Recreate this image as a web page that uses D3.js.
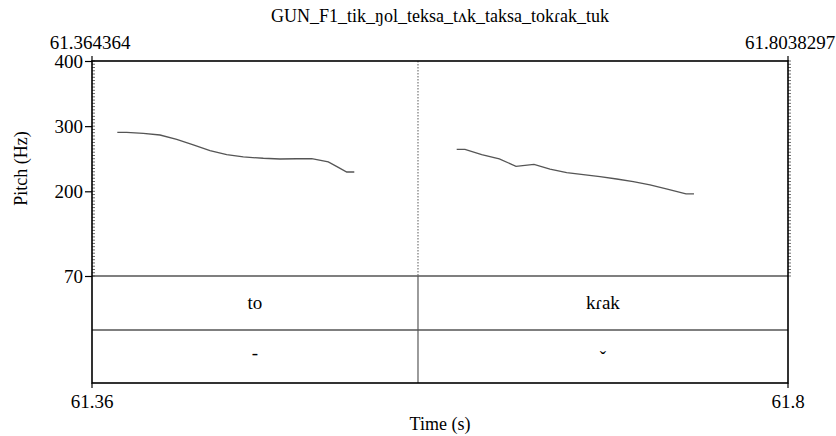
<!DOCTYPE html>
<html>
<head>
<meta charset="utf-8">
<script src="https://cdn.jsdelivr.net/npm/d3@7"></script>
<style>
  html, body { margin: 0; padding: 0; background: #fff; }
  svg { display: block; }
  svg text { font-family: 'Liberation Serif', 'Times New Roman', 'DejaVu Serif', serif !important; fill: #000; }
</style>
</head>
<body>
<svg id="chart" width="836" height="436"></svg>
<script>
// Window and axis settings
const title = "GUN_F1_tik_ŋol_teksa_tʌk_taksa_tokɾak_tuk";
const tStart = 61.364364;
const tEnd = 61.8038297;
const startLabel = "61.364364";
const endLabel = "61.8038297";
const bottomLabels = ["61.36", "61.8"];
const pitchTicks = [70, 200, 300, 400];
const pitchMin = 70, pitchMax = 400;

// Pitch contour of the first syllable (time in s, F0 in Hz)
const seg1Time = [61.38034, 61.38627, 61.39676, 61.40730, 61.41785, 61.42833, 61.43887, 61.44942,
                  61.45990, 61.47253, 61.48307, 61.49361, 61.50309, 61.51357, 61.51988, 61.52519, 61.52998];
const seg1Hz   = [290.6, 290.6, 289.0, 286.4, 279.8, 271.1, 262.3, 256.2,
                  252.7, 250.7, 249.6, 250.0, 250.0, 245.0, 236.8, 229.6, 229.6];

// Pitch contour of the second syllable
const seg2Time = [61.59464, 61.59988, 61.61043, 61.62154, 61.63208, 61.64345, 61.65355, 61.66410,
                  61.67458, 61.68512, 61.69567, 61.70615, 61.71669, 61.72825, 61.73942, 61.74447];
const seg2Hz   = [264.5, 264.5, 256.2, 249.6, 238.4, 241.4, 234.2, 228.6,
                  225.5, 222.4, 218.9, 214.7, 209.7, 203.1, 195.9, 195.9];

// TextGrid tiers: interval boundary and labels
const boundaries = [61.5702];
const syllables = ["to", "kɾak"];
const tones = ["-", "ˇ"];

const serif = "'Liberation Serif', 'Times New Roman', 'DejaVu Serif', serif";
const svg = d3.select("#chart").style("font-family", serif);
const frameL = 92, frameR = 788, frameT = 61, pitchBottom = 276, tier1Bottom = 330, frameB = 383;

const x = d3.scaleLinear().domain([tStart, tEnd]).range([frameL, frameR]);
const y = d3.scaleLinear().domain([pitchMin, pitchMax]).range([pitchBottom, frameT]);

function label(px, py, str, size, anchor) {
  return svg.append("text").attr("x", px).attr("y", py)
    .attr("text-anchor", anchor || "middle").attr("font-size", size)
    .style("font-family", serif).text(str);
}

// Title and time labels at the window edges
label((frameL + frameR) / 2, 22, title, 18);
label(frameL - 2, 49, startLabel, 19);
label(frameR + 2, 49, endLabel, 19);

// Fine inner ruler marks on the pitch axis
const minor = d3.range(pitchMin, pitchMax + 0.1, 5);
svg.append("g").selectAll("line").data(minor).join("line")
  .attr("x1", frameL).attr("x2", frameL + 3)
  .attr("y1", d => y(d)).attr("y2", d => y(d))
  .attr("stroke", "#444").attr("stroke-width", 0.8);
svg.append("g").selectAll("line").data(minor).join("line")
  .attr("x1", frameR).attr("x2", frameR + 3)
  .attr("y1", d => y(d)).attr("y2", d => y(d))
  .attr("stroke", "#444").attr("stroke-width", 0.8);

// Left pitch axis
const yAxis = d3.axisLeft(y).tickValues(pitchTicks).tickSize(7).tickFormat(d3.format("d"));
const gy = svg.append("g").attr("transform", `translate(${frameL},0)`).call(yAxis)
  .attr("font-family", null).attr("font-size", null);
gy.select(".domain").remove();
gy.selectAll(".tick line").attr("stroke", "#000").attr("stroke-width", 1.2);
gy.selectAll(".tick text")
  .style("font-family", serif)
  .attr("font-size", 19).attr("x", -9).attr("dy", "0.34em").attr("fill", "#000");

svg.append("text")
  .attr("transform", `translate(27,${(frameT + pitchBottom) / 2}) rotate(-90)`)
  .attr("text-anchor", "middle").attr("font-size", 18)
  .style("font-family", serif).text("Pitch (Hz)");

// Interval boundary: dotted across the pitch panel, solid in the tiers
boundaries.forEach(b => {
  svg.append("line").attr("x1", x(b)).attr("x2", x(b)).attr("y1", frameT).attr("y2", pitchBottom)
    .attr("stroke", "#777").attr("stroke-width", 1.2).attr("stroke-dasharray", "1.5,1.5");
  svg.append("line").attr("x1", x(b)).attr("x2", x(b)).attr("y1", pitchBottom).attr("y2", frameB)
    .attr("stroke", "#666").attr("stroke-width", 1.3);
});

// Pitch contours
const line = d3.line().x(d => x(d[0])).y(d => y(d[1]));
[[seg1Time, seg1Hz], [seg2Time, seg2Hz]].forEach(([ts, hs]) => {
  svg.append("path").datum(ts.map((t, i) => [t, hs[i]]))
    .attr("d", line).attr("fill", "none")
    .attr("stroke", "#555").attr("stroke-width", 1.3);
});

// Tier separators
svg.append("line").attr("x1", frameL).attr("x2", frameR).attr("y1", pitchBottom).attr("y2", pitchBottom)
  .attr("stroke", "#555").attr("stroke-width", 1.4);
svg.append("line").attr("x1", frameL).attr("x2", frameR).attr("y1", tier1Bottom).attr("y2", tier1Bottom)
  .attr("stroke", "#555").attr("stroke-width", 1.4);

// Tier labels centred in each interval
const edges = [tStart, ...boundaries, tEnd];
const mids = d3.range(edges.length - 1).map(i => (x(edges[i]) + x(edges[i + 1])) / 2);
syllables.forEach((s, i) => label(mids[i], (pitchBottom + tier1Bottom) / 2 + 6, s, 19));
tones.forEach((s, i) => label(mids[i], i === 0 ? 359 : 364, s, 19));

// Outer frame
svg.append("rect").attr("x", frameL).attr("y", frameT).attr("width", frameR - frameL).attr("height", frameB - frameT)
  .attr("fill", "none").attr("stroke", "#000").attr("stroke-width", 1.6);

// Small corner marks above and below the frame
[frameL, frameR].forEach(px => {
  svg.append("line").attr("x1", px).attr("x2", px).attr("y1", frameT - 5).attr("y2", frameT)
    .attr("stroke", "#000").attr("stroke-width", 1.2);
  svg.append("line").attr("x1", px).attr("x2", px).attr("y1", frameB).attr("y2", frameB + 5)
    .attr("stroke", "#000").attr("stroke-width", 1.2);
});

// Bottom time labels and axis title
label(frameL, 408, bottomLabels[0], 19);
label(frameR, 408, bottomLabels[1], 19);
label((frameL + frameR) / 2, 430, "Time (s)", 18);
</script>
</body>
</html>
